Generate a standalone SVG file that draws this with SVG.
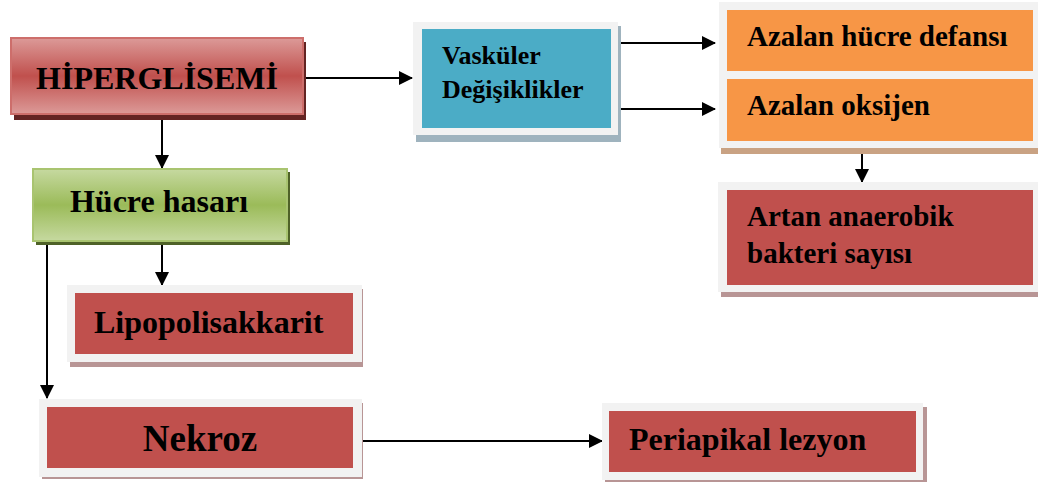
<svg xmlns="http://www.w3.org/2000/svg" width="1038" height="483" viewBox="0 0 1038 483">
<style>
text{font-family:"Liberation Serif","Times New Roman",serif;font-weight:bold;fill:#000}
.frame{fill:#f2f2f2}
.red{fill:#c0504d}
.orange{fill:#f79646}
.blue{fill:#4bacc6}
.rsh{fill:#b89595}
.conn{stroke:#000;stroke-width:2;fill:none}
</style>
<defs>
<linearGradient id="gRed" x1="0" y1="0" x2="0" y2="1">
<stop offset="0" stop-color="#dc9a98"/><stop offset="0.5" stop-color="#c0504d"/><stop offset="1" stop-color="#dc9a98"/>
</linearGradient>
<linearGradient id="gGreen" x1="0" y1="0" x2="0" y2="1">
<stop offset="0" stop-color="#c6d9a0"/><stop offset="0.5" stop-color="#9bbb59"/><stop offset="1" stop-color="#c6d9a0"/>
</linearGradient>
<marker id="ah" markerWidth="14" markerHeight="16" refX="13" refY="8" orient="auto" markerUnits="userSpaceOnUse">
<path d="M0,1 L14,8 L0,15 Z" fill="#000"/>
</marker>
</defs>

<g id="connectors">
<line class="conn" x1="305" y1="78" x2="412" y2="78" marker-end="url(#ah)"/>
<line class="conn" x1="614" y1="43" x2="715" y2="43" marker-end="url(#ah)"/>
<line class="conn" x1="614" y1="109" x2="715" y2="109" marker-end="url(#ah)"/>
<line class="conn" x1="862" y1="148" x2="862" y2="182" marker-end="url(#ah)"/>
<line class="conn" x1="162" y1="120" x2="162" y2="168" marker-end="url(#ah)"/>
<line class="conn" x1="162" y1="241" x2="162" y2="285" marker-end="url(#ah)"/>
<line class="conn" x1="47" y1="241" x2="47" y2="398" marker-end="url(#ah)"/>
<line class="conn" x1="363" y1="441" x2="602" y2="441" marker-end="url(#ah)"/>
</g>

<g id="hiperglisemi">
<rect x="14" y="42" width="292" height="78" fill="#632423"/>
<rect x="11" y="38" width="292" height="76" fill="url(#gRed)" stroke="#cd6e6b" stroke-width="2"/>
<text x="157" y="89" font-size="32" text-anchor="middle">HİPERGLİSEMİ</text>
</g>

<g id="vaskuler">
<rect x="416" y="26" width="205" height="116" fill="#9fb3be"/>
<rect class="frame" x="413" y="22" width="205" height="113"/>
<rect class="blue" x="422" y="29" width="189" height="99"/>
<text x="442" y="64" font-size="26">Vasküler</text>
<text x="442" y="98" font-size="26">Değişiklikler</text>
</g>

<g id="azalan">
<rect x="721" y="8" width="317" height="146" fill="#c9a283"/>
<rect class="frame" x="719" y="2" width="319" height="146"/>
<rect class="orange" x="727" y="10" width="306" height="61"/>
<text x="747" y="46" font-size="29">Azalan hücre defansı</text>
<rect class="orange" x="727" y="79" width="306" height="62"/>
<text x="747" y="115" font-size="29">Azalan oksijen</text>
</g>

<g id="artan">
<rect class="rsh" x="721" y="186" width="317" height="111"/>
<rect class="frame" x="718" y="182" width="320" height="110"/>
<rect class="red" x="727" y="190" width="306" height="95"/>
<text x="747" y="226" font-size="29">Artan anaerobik</text>
<text x="747" y="263" font-size="29">bakteri sayısı</text>
</g>

<g id="hucre">
<rect x="36" y="172" width="254" height="73" fill="#4f6228"/>
<rect x="33" y="169" width="254" height="72" fill="url(#gGreen)" stroke="#a9c470" stroke-width="2"/>
<text x="159" y="212" font-size="32" text-anchor="middle">Hücre hasarı</text>
</g>

<g id="lipopolisakkarit">
<rect class="rsh" x="70" y="289" width="293" height="78"/>
<rect class="frame" x="67" y="285" width="295" height="77"/>
<rect class="red" x="75" y="293" width="278" height="61"/>
<text x="94" y="333" font-size="32">Lipopolisakkarit</text>
</g>

<g id="nekroz">
<rect class="rsh" x="42" y="403" width="321" height="76"/>
<rect class="frame" x="39" y="399" width="323" height="78"/>
<rect class="red" x="47" y="407" width="306" height="61"/>
<text x="200" y="451" font-size="37" text-anchor="middle">Nekroz</text>
</g>

<g id="periapikal">
<rect class="rsh" x="605" y="407" width="322" height="75"/>
<rect class="frame" x="602" y="403" width="321" height="77"/>
<rect class="red" x="609" y="411" width="307" height="61"/>
<text x="629" y="450" font-size="32">Periapikal lezyon</text>
</g>
</svg>
